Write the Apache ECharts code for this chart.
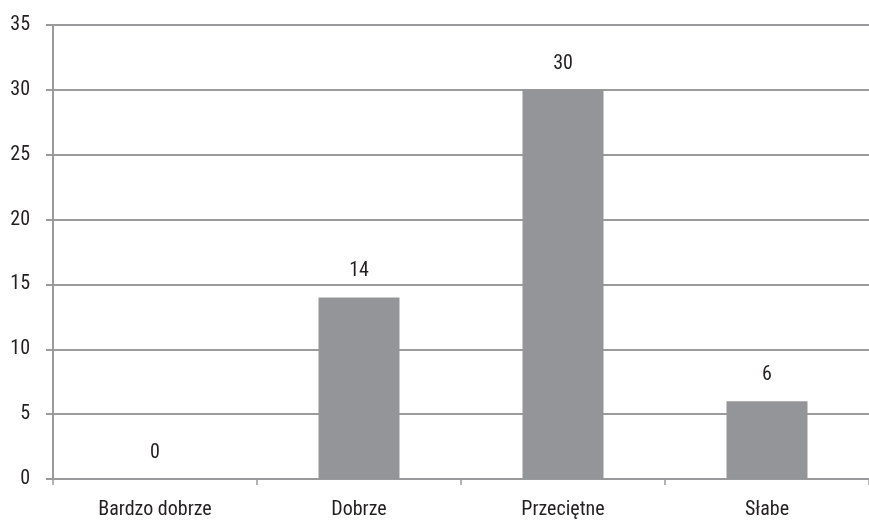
<!DOCTYPE html>
<html><head><meta charset="utf-8">
<script src="https://cdn.jsdelivr.net/npm/echarts@6/dist/echarts.min.js"></script>
<style>html,body{margin:0;padding:0;background:#fff}#c{width:869px;height:520px}</style>
</head><body><div id="c"></div>
<script>
const categories = ['Bardzo dobrze', 'Dobrze', 'Przeciętne', 'Słabe'];
const values = [0, 14, 30, 6];
const yMin = 0, yMax = 35, yStep = 5;

const font = '"Roboto Condensed", "Liberation Sans Narrow", sans-serif';
const chart = echarts.init(document.getElementById('c'), null, {renderer: 'canvas'});
chart.setOption({
  animation: false,
  backgroundColor: '#ffffff',
  grid: {left: 53, width: 819, top: 25, bottom: 39, containLabel: false},
  xAxis: {
    type: 'category', data: categories,
    axisLine: {lineStyle: {color: '#9a9a9c', width: 2}},
    axisTick: {show: true, length: 6, lineStyle: {color: '#9a9a9c', width: 1.5}},
    axisLabel: {color: '#231f20', fontFamily: font, fontSize: 20, margin: 21}
  },
  yAxis: {
    type: 'value', min: yMin, max: yMax, interval: yStep,
    axisLine: {show: true, lineStyle: {color: '#9a9a9c', width: 2}},
    axisTick: {show: true, length: 7, lineStyle: {color: '#9a9a9c', width: 2}},
    splitLine: {lineStyle: {color: '#9a9a9c', width: 2}},
    axisLabel: {color: '#231f20', fontFamily: font, fontSize: 20, margin: 23}
  },
  series: [{
    type: 'bar', data: values, barWidth: 81,
    itemStyle: {color: '#949598'},
    label: {show: true, position: 'top', distance: 16, color: '#231f20', fontFamily: font, fontSize: 20}
  }]
});
</script></body></html>
